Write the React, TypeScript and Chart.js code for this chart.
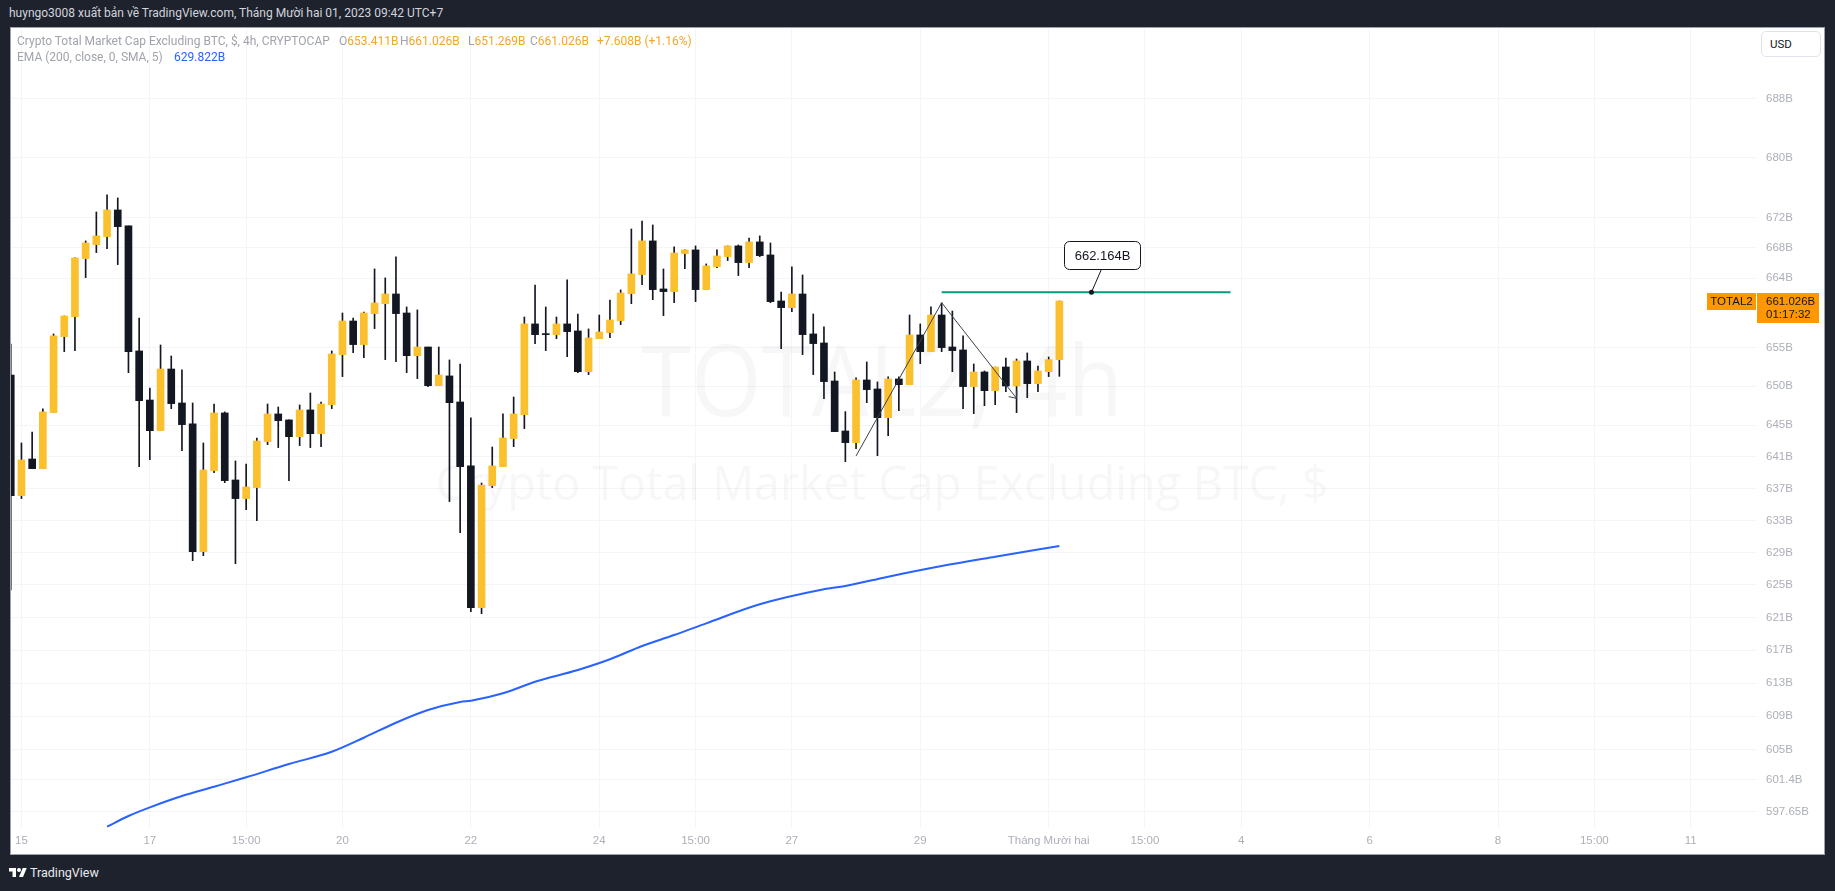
import React, { useEffect, useRef } from "react";
import { Chart, registerables } from "chart.js";

Chart.register(...registerables);

// ---- candle data (4h candles, index 0 = first visible candle) ----
const opens = [
  651.44, 636.11, 640.73, 639.51, 646.62, 656.39, 658.99, 666.58, 668.42, 669.48,
  673.01, 670.89, 654.54, 648.23, 644.32, 652.21, 647.85, 645.18, 629.12, 639.26,
  646.58, 638.08, 635.74, 637.12, 642.93, 646.45, 645.69, 643.56, 646.96, 643.94,
  647.64, 654.06, 658.42, 655.36, 659.38, 660.68, 661.94, 659.46, 653.93, 655.05,
  650.07, 651.32, 647.98, 639.85, 622.2, 637.37, 639.76, 643.31, 646.37, 658.04,
  656.74, 656.65, 658.04, 657.13, 651.87, 656.13, 656.91, 658.47, 661.99, 664.48,
  668.91, 662.6, 662.25, 667.24, 667.72, 662.51, 665.53, 666.84, 668.25, 666.05,
  668.78, 667.06, 661.03, 660.16, 661.94, 656.74, 655.57, 650.67, 644.28, 642.8,
  650.8, 649.65, 645.98, 650.93, 650.2, 656.61, 654.45, 659.2, 655.05, 654.67,
  649.95, 651.83, 649.43, 652.47, 650.03, 653.25, 650.33, 651.87, 653.411,
];
const highs = [
  655.44, 642.76, 644.15, 647.09, 656.74, 659.07, 666.67, 668.91, 672.74, 675.01,
  674.61, 670.89, 658.81, 649.77, 655.31, 653.89, 652.09, 647.85, 642.76, 647.72,
  646.71, 640.48, 640.1, 643.39, 647.72, 647.34, 645.69, 647.6, 649.13, 647.98,
  654.54, 659.46, 658.81, 659.59, 665.22, 664.04, 666.8, 660.25, 659.86, 655.05,
  655.05, 653.38, 652.86, 645.94, 637.7, 642.25, 646.45, 648.62, 658.94, 663.12,
  660.25, 658.94, 663.78, 659.33, 657.39, 659.2, 661.16, 662.47, 670.49, 671.55,
  671.02, 665.22, 668.12, 667.72, 668.25, 665.88, 667.72, 668.25, 668.38, 669.3,
  669.57, 668.64, 662.2, 665.49, 664.43, 659.33, 657.65, 651.83, 646.75, 651.06,
  653.12, 650.55, 651.19, 651.19, 659.2, 658.04, 660.25, 660.77, 659.72, 656.48,
  652.86, 651.96, 652.47, 653.63, 653.5, 654.28, 652.6, 653.76, 661.026,
];
const lows = [
  624.38, 635.74, 639.51, 639.51, 646.62, 654.45, 654.58, 664.08, 667.37, 667.9,
  665.79, 651.74, 639.76, 640.65, 644.32, 647.13, 641.79, 628.0, 628.62, 639.0,
  637.74, 627.63, 634.36, 632.98, 642.55, 642.17, 638.0, 642.42, 642.17, 642.29,
  647.13, 651.23, 654.32, 653.68, 657.43, 653.42, 653.16, 651.74, 650.97, 649.95,
  650.07, 635.36, 631.48, 621.71, 621.46, 637.12, 639.76, 642.29, 644.58, 655.49,
  654.58, 656.13, 653.81, 651.74, 651.49, 656.13, 656.26, 657.95, 660.68, 663.16,
  661.2, 659.12, 660.81, 665.27, 660.94, 662.51, 665.4, 666.32, 664.35, 665.4,
  666.84, 660.81, 654.84, 659.64, 654.06, 651.49, 648.41, 644.2, 640.39, 642.04,
  647.89, 641.15, 643.69, 646.87, 650.2, 652.9, 654.45, 654.45, 651.87, 647.13,
  646.49, 647.51, 647.64, 649.3, 646.62, 648.53, 649.3, 651.23, 651.269,
];
const closes = [
  636.11, 640.61, 639.51, 646.71, 656.48, 659.07, 666.67, 668.64, 669.57, 673.01,
  670.8, 654.45, 648.15, 644.32, 652.21, 647.77, 645.09, 629.12, 639.34, 646.58,
  638.0, 635.74, 637.2, 643.01, 646.45, 645.6, 643.56, 646.96, 643.94, 647.72,
  654.15, 658.42, 655.36, 659.46, 660.77, 661.94, 659.38, 653.93, 655.05, 650.07,
  651.44, 647.89, 639.76, 622.2, 637.45, 639.85, 643.39, 646.45, 658.04, 656.65,
  656.65, 658.04, 657.04, 651.87, 656.22, 657.0, 658.55, 662.07, 664.57, 668.91,
  662.51, 662.25, 667.32, 667.72, 662.51, 665.62, 666.93, 668.25, 666.05, 668.78,
  666.97, 660.94, 660.16, 661.94, 656.65, 655.49, 650.59, 644.2, 642.8, 650.8,
  649.56, 645.98, 650.93, 650.2, 656.61, 654.45, 659.2, 654.97, 654.58, 649.95,
  651.83, 649.43, 652.47, 650.03, 653.25, 650.33, 651.96, 653.418, 661.026,
];

// ---- EMA(200) (candle index, value) ----
const emaIdx = [9, 11, 13, 16, 19, 22, 26, 30, 33, 36, 39, 42, 43, 46, 49, 53, 56, 59, 62, 65, 70, 76, 78, 82, 87, 92, 98];
const emaVal = [
  595.87, 597.13, 598.15, 599.49, 600.59, 601.71, 603.29, 604.75, 606.43, 608.23,
  609.75, 610.72, 610.87, 611.77, 613.17, 614.59, 615.89, 617.51, 618.85, 620.28,
  622.61, 624.46, 624.87, 626.02, 627.34, 628.49, 629.822,
];

// ---- axes ----
const xTickIdx = [1, 13, 22, 31, 43, 55, 64, 73, 85, 97, 106, 115, 127, 139, 148, 157];
const xTickLabels = ["15", "17", "15:00", "20", "22", "24", "15:00", "27", "29", "Tháng Mười hai", "15:00", "4", "6", "8", "15:00", "11"];
const yTickVals = [688, 680, 672, 668, 664, 655, 650, 645, 641, 637, 633, 629, 625, 621, 617, 613, 609, 605, 601.4, 597.65];
const yTickLabels = ["688B", "680B", "672B", "668B", "664B", "655B", "650B", "645B", "641B", "637B", "633B", "629B", "625B", "621B", "617B", "613B", "609B", "605B", "601.4B", "597.65B"];
const xMin = 0.023;
const xMax = 163.2;
const yMin = 595.72;
const yMax = 697.62;

// ---- drawings ----
const pathIdx = [79, 87, 94];
const pathVal = [641.11, 660.8, 648.45];
const levelValue = 662.164;
const levelStart = 87;
const levelEnd = 114;
const calloutIdx = 101;

const symbolName = "TOTAL2";
const countdown = "01:17:32";
const titleText = "Crypto Total Market Cap Excluding BTC, $, 4h, CRYPTOCAP";
const emaTitle = "EMA (200, close, 0, SMA, 5)";
const wmTitle = "TOTAL2, 4h";
const wmSubtitle = "Crypto Total Market Cap Excluding BTC, $";
const headerText = "huyngo3008 xuất bản về TradingView.com, Tháng Mười hai 01, 2023 09:42 UTC+7";

const UP = "#FBC02D";
const DOWN = "#131722";
const WICK = "#131722";
const GRID = "#f4f5f8";
const TICK = "#acafb7";
const FONT = "'Liberation Sans', Arial, sans-serif";
const LEGEND_VAL = "#f5a623";

const fmtB = (v: number) => `${v.toFixed(3)}B`;

export default function App() {
  const ref = useRef<HTMLCanvasElement | null>(null);

  useEffect(() => {
    const canvas = ref.current;
    if (!canvas) return;
    const idx = opens.map((_, i) => i);
    const bodyData = idx.map((i) => ({ x: i, y: [opens[i], closes[i]] }));
    const wickData = idx.map((i) => ({ x: i, y: [lows[i], highs[i]] }));
    const bodyColors = idx.map((i) => (closes[i] >= opens[i] ? UP : DOWN));
    const emaData = emaIdx.map((x, k) => ({ x, y: emaVal[k] }));
    const last = closes.length - 1;

    const watermark = {
      id: "watermark",
      beforeDatasetsDraw(chart: any) {
        const { ctx, chartArea } = chart;
        const cx = (chartArea.left + chartArea.right) / 2 - 2;
        ctx.save();
        ctx.fillStyle = "rgba(19,23,34,0.035)";
        ctx.textAlign = "center";
        ctx.textBaseline = "alphabetic";
        ctx.font = "98px 'Open Sans', sans-serif";
        ctx.fillText(wmTitle, cx, chartArea.top + 388, 482);
        ctx.font = "48px 'Open Sans', sans-serif";
        ctx.fillText(wmSubtitle, cx, chartArea.top + 472, 893);
        ctx.restore();
      },
    };

    const drawings = {
      id: "drawings",
      afterDatasetsDraw(chart: any) {
        const { ctx, chartArea } = chart;
        const x = chart.scales.x;
        const y = chart.scales.y;
        ctx.save();
        ctx.beginPath();
        ctx.rect(chartArea.left, chartArea.top, chartArea.right - chartArea.left, chartArea.bottom - chartArea.top);
        ctx.clip();

        // trend path with arrow
        ctx.strokeStyle = "#3c404b";
        ctx.lineWidth = 1;
        ctx.beginPath();
        pathIdx.forEach((v, k) => {
          const px = x.getPixelForValue(v);
          const py = y.getPixelForValue(pathVal[k]);
          if (k === 0) ctx.moveTo(px, py);
          else ctx.lineTo(px, py);
        });
        ctx.stroke();
        const n = pathIdx.length;
        const ex = x.getPixelForValue(pathIdx[n - 1]);
        const ey = y.getPixelForValue(pathVal[n - 1]);
        const sx = x.getPixelForValue(pathIdx[n - 2]);
        const sy = y.getPixelForValue(pathVal[n - 2]);
        const ang = Math.atan2(ey - sy, ex - sx);
        const L = 8;
        ctx.beginPath();
        ctx.moveTo(ex - L * Math.cos(ang - 0.7), ey - L * Math.sin(ang - 0.7));
        ctx.lineTo(ex, ey);
        ctx.lineTo(ex - L * Math.cos(ang + 0.7), ey - L * Math.sin(ang + 0.7));
        ctx.stroke();

        // horizontal level
        const ly = y.getPixelForValue(levelValue);
        ctx.strokeStyle = "#089981";
        ctx.lineWidth = 2;
        ctx.beginPath();
        ctx.moveTo(x.getPixelForValue(levelStart), ly);
        ctx.lineTo(x.getPixelForValue(levelEnd), ly);
        ctx.stroke();

        // callout
        const dx = x.getPixelForValue(calloutIdx);
        ctx.strokeStyle = "#131722";
        ctx.lineWidth = 1;
        ctx.beginPath();
        ctx.moveTo(dx, ly);
        ctx.lineTo(dx + 10, ly - 23);
        ctx.stroke();
        ctx.fillStyle = "#131722";
        ctx.beginPath();
        ctx.arc(dx, ly, 2.5, 0, Math.PI * 2);
        ctx.fill();
        const bx = Math.round(dx - 27) + 0.5;
        const by = Math.round(ly - 51) + 0.5;
        const bw = 76;
        const bh = 28;
        const r = 5;
        ctx.beginPath();
        ctx.moveTo(bx + r, by);
        ctx.arcTo(bx + bw, by, bx + bw, by + bh, r);
        ctx.arcTo(bx + bw, by + bh, bx, by + bh, r);
        ctx.arcTo(bx, by + bh, bx, by, r);
        ctx.arcTo(bx, by, bx + bw, by, r);
        ctx.closePath();
        ctx.fillStyle = "#ffffff";
        ctx.fill();
        ctx.stroke();
        ctx.fillStyle = "#131722";
        ctx.font = `13px ${FONT}`;
        ctx.textAlign = "center";
        ctx.textBaseline = "middle";
        ctx.fillText(fmtB(levelValue), bx + bw / 2, by + bh / 2 + 0.5);
        ctx.restore();
      },
    };

    const priceTag = {
      id: "priceTag",
      afterDraw(chart: any) {
        const { ctx, chartArea } = chart;
        const y = chart.scales.y;
        const py = Math.round(y.getPixelForValue(closes[last]));
        ctx.save();
        ctx.fillStyle = "#FF9800";
        ctx.fillRect(chartArea.right, py - 8, 62, 30);
        ctx.fillRect(chartArea.right - 50, py - 8, 49, 17);
        ctx.fillStyle = "#131722";
        ctx.font = `11.5px ${FONT}`;
        ctx.textBaseline = "middle";
        ctx.textAlign = "left";
        ctx.fillText(fmtB(closes[last]), chartArea.right + 9, py + 1);
        ctx.fillText(countdown, chartArea.right + 9, py + 14);
        ctx.textAlign = "center";
        ctx.fillText(symbolName, chartArea.right - 25.5, py + 1);
        ctx.restore();
      },
    };

    const chart = new Chart(canvas, {
      type: "bar",
      data: {
        datasets: [
          {
            type: "line",
            label: "EMA",
            data: emaData,
            borderColor: "#2962FF",
            borderWidth: 2,
            pointRadius: 0,
            cubicInterpolationMode: "monotone",
            order: 3,
          } as any,
          {
            label: "wick",
            data: wickData as any,
            backgroundColor: WICK,
            barThickness: 1,
            grouped: false,
            borderWidth: 0,
            order: 2,
          } as any,
          {
            label: "body",
            data: bodyData as any,
            backgroundColor: bodyColors,
            barThickness: 7,
            grouped: false,
            borderWidth: 0,
            borderSkipped: false,
            minBarLength: 1,
            order: 1,
          } as any,
        ],
      },
      options: {
        animation: false,
        responsive: false,
        maintainAspectRatio: false,
        events: [],
        layout: { padding: 0, autoPadding: false } as any,
        plugins: {
          legend: { display: false },
          tooltip: { enabled: false },
        },
        scales: {
          x: {
            type: "linear",
            min: xMin,
            max: xMax,
            offset: false,
            grid: { color: GRID, drawTicks: false, offset: false },
            border: { display: false },
            afterBuildTicks: (s: any) => {
              s.ticks = xTickIdx.map((v) => ({ value: v }));
            },
            afterFit: (s: any) => {
              s.height = 26;
              s.paddingLeft = 0;
              s.paddingRight = 0;
              s.paddingTop = 0;
              s.paddingBottom = 0;
            },
            ticks: {
              autoSkip: false,
              maxRotation: 0,
              minRotation: 0,
              padding: 6,
              color: TICK,
              font: { family: FONT, size: 11.5 },
              callback: (_v: any, i: number) => xTickLabels[i],
            },
          } as any,
          y: {
            type: "logarithmic",
            position: "right",
            min: yMin,
            max: yMax,
            beginAtZero: false,
            grid: { color: GRID, drawTicks: false },
            border: { display: false },
            afterBuildTicks: (s: any) => {
              s.ticks = yTickVals.map((v) => ({ value: v }));
            },
            afterFit: (s: any) => {
              s.width = 67;
              s.paddingTop = 0;
              s.paddingBottom = 0;
              s.paddingLeft = 0;
              s.paddingRight = 0;
            },
            ticks: {
              autoSkip: false,
              padding: 9,
              color: TICK,
              font: { family: FONT, size: 11.5 },
              callback: (_v: any, i: number) => yTickLabels[i],
            },
          } as any,
        },
      },
      plugins: [watermark, drawings, priceTag],
    } as any);

    return () => chart.destroy();
  }, []);

  const last = closes.length - 1;
  const change = closes[last] - closes[last - 1];
  const pct = (change / closes[last - 1]) * 100;
  const changeText = `${change >= 0 ? "+" : ""}${change.toFixed(3)}B (${change >= 0 ? "+" : ""}${pct.toFixed(2)}%)`;

  const legendFont: React.CSSProperties = {
    position: "absolute",
    fontFamily: "Roboto, sans-serif",
    fontSize: 12,
    lineHeight: "16px",
    whiteSpace: "nowrap",
  };
  const gray = "#a0a3ab";

  return (
    <div
      style={{
        position: "absolute",
        left: 0,
        top: 0,
        width: 1835,
        height: 891,
        background: "#1e222d",
        overflow: "hidden",
      }}
    >
      <div style={{ ...legendFont, left: 9, top: 5, fontSize: 12, color: "#d1d4dc" }}>{headerText}</div>

      <div
        style={{
          position: "absolute",
          left: 10,
          top: 27,
          width: 1815,
          height: 828,
          boxSizing: "border-box",
          border: "1px solid #9ea1aa",
          background: "#ffffff",
        }}
      >
        <canvas ref={ref} width={1813} height={826} style={{ display: "block", width: 1813, height: 826 }} />

        <div style={{ ...legendFont, left: 6, top: 5, color: gray }}>{titleText}</div>
        <div style={{ ...legendFont, left: 328, top: 5, color: gray }}>
          O<span style={{ color: LEGEND_VAL }}>{fmtB(opens[last])}</span>
        </div>
        <div style={{ ...legendFont, left: 389, top: 5, color: gray }}>
          H<span style={{ color: LEGEND_VAL }}>{fmtB(highs[last])}</span>
        </div>
        <div style={{ ...legendFont, left: 457, top: 5, color: gray }}>
          L<span style={{ color: LEGEND_VAL }}>{fmtB(lows[last])}</span>
        </div>
        <div style={{ ...legendFont, left: 519, top: 5, color: gray }}>
          C<span style={{ color: LEGEND_VAL }}>{fmtB(closes[last])}</span>
        </div>
        <div style={{ ...legendFont, left: 586, top: 5, color: LEGEND_VAL }}>{changeText}</div>

        <div style={{ ...legendFont, left: 6, top: 21, color: gray }}>{emaTitle}</div>
        <div style={{ ...legendFont, left: 163, top: 21, color: "#2962FF" }}>{fmtB(emaVal[emaVal.length - 1])}</div>

        <div
          style={{
            position: "absolute",
            left: 1750,
            top: 3,
            width: 60,
            height: 26,
            boxSizing: "border-box",
            border: "1px solid #e0e3eb",
            borderRadius: 5,
            background: "#ffffff",
            fontFamily: "Roboto, sans-serif",
            fontSize: 11.5,
            lineHeight: "24px",
            paddingLeft: 8,
            color: "#131722",
          }}
        >
          USD
        </div>
      </div>

      <div style={{ position: "absolute", left: 9, top: 866, display: "flex", alignItems: "center" }}>
        <svg width="18" height="14" viewBox="0 0 36 28" style={{ display: "block" }}>
          <path d="M14 22H7V11H0V4h14v18zM28 22h-8l7.5-18h8L28 22z" fill="#ffffff" />
          <circle cx="20" cy="8" r="4" fill="#ffffff" />
        </svg>
        <span
          style={{
            marginLeft: 3,
            fontFamily: "Roboto, sans-serif",
            fontSize: 12.5,
            color: "#e8eaef",
            lineHeight: "14px",
          }}
        >
          TradingView
        </span>
      </div>
    </div>
  );
}
